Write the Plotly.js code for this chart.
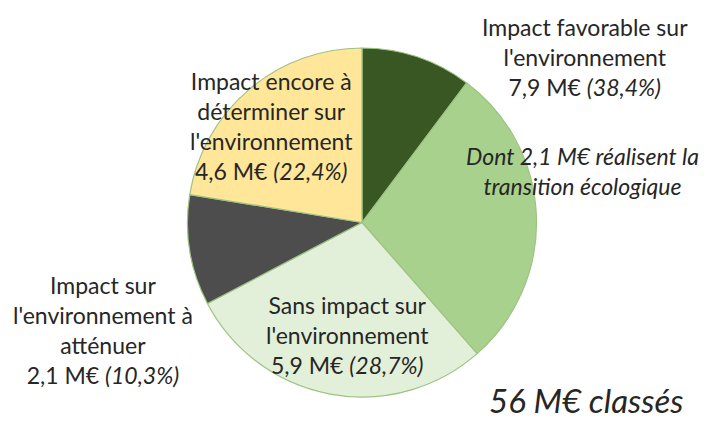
<!DOCTYPE html>
<html>
<head>
<meta charset="utf-8">
<script src="https://cdn.plot.ly/plotly-3.0.1.min.js"></script>
<style>html,body{margin:0;padding:0;background:#fff;}#chart{width:708px;height:423px;}</style>
</head>
<body>
<div id="chart"></div>
<script>
// Slices, clockwise from 12 o'clock (M€)
const sliceLabels = [
  "Impact favorable – transition écologique",
  "Impact favorable – autre",
  "Sans impact sur l'environnement",
  "Impact sur l'environnement à atténuer",
  "Impact encore à déterminer sur l'environnement"
];
const sliceValues = [2.1, 5.8, 5.9, 2.1, 4.6];
const sliceColors = ["#385723", "#A9D18E", "#E2F0D9", "#4D4D4D", "#FFE699"];

// Text blocks
const labelTexts = [
  "Impact favorable sur<br>l'environnement<br>7,9 M€ <i>(38,4%)</i>",
  "<i>Dont 2,1 M€ réalisent la<br>transition écologique</i>",
  "Impact encore à<br>déterminer sur<br>l'environnement<br>4,6 M€ <i>(22,4%)</i>",
  "Impact sur<br>l'environnement à<br>atténuer<br>2,1 M€ <i>(10,3%)</i>",
  "Sans impact sur<br>l'environnement<br>5,9 M€ <i>(28,7%)</i>",
  "<i>56 M€ classés</i>"
];

const W = 708, H = 423;
const pos = [[585, 57], [582, 171], [271, 126], [103, 330], [347, 335], [586, 400]];
const sizes = [23, 23, 23, 23, 23, 33];

const annotations = labelTexts.map((t, i) => ({
  text: t,
  xref: "paper", yref: "paper",
  x: pos[i][0] / W, y: 1 - pos[i][1] / H,
  xanchor: "center", yanchor: "middle",
  showarrow: false,
  align: "center",
  font: {family: "Lato, 'Open Sans', sans-serif", size: sizes[i], color: "#262626"}
}));

const cx = 362, cy = 222.5, r = 174.5;
const data = [{
  type: "pie",
  labels: sliceLabels,
  values: sliceValues,
  sort: false,
  direction: "clockwise",
  rotation: 0,
  textinfo: "none",
  hoverinfo: "label+value",
  marker: {colors: sliceColors, line: {color: "#9DC383", width: 1.2}},
  domain: {x: [(cx - r) / W, (cx + r) / W], y: [(H - cy - r) / H, (H - cy + r) / H]},
  showlegend: false
}];

const layout = {
  width: W, height: H,
  margin: {l: 0, r: 0, t: 0, b: 0},
  paper_bgcolor: "#ffffff",
  plot_bgcolor: "#ffffff",
  showlegend: false,
  annotations: annotations
};

Plotly.newPlot("chart", data, layout, {displayModeBar: false, staticPlot: true});
</script>
</body>
</html>
